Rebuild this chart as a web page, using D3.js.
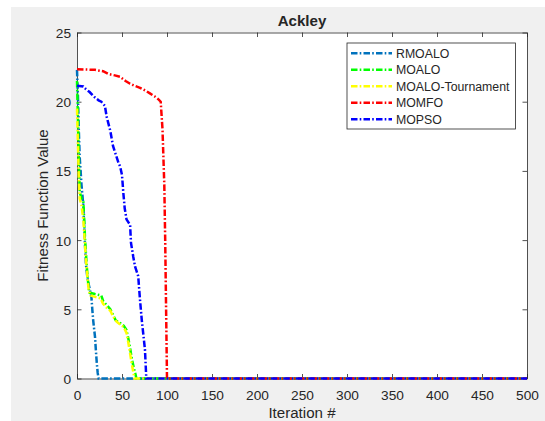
<!DOCTYPE html>
<html>
<head>
<meta charset="utf-8">
<script src="https://cdn.jsdelivr.net/npm/d3@7"></script>
<style>
html,body{margin:0;padding:0;background:#fff;}
svg{display:block;}
text{font-family:"Liberation Sans",Arial,Helvetica,sans-serif;fill:#262626;}
</style>
</head>
<body>
<svg id="chart" width="545" height="421"></svg>
<script>
const title = "Ackley";
const xLabel = "Iteration #";
const yLabel = "Fitness Function Value";
const xTicks = [0,50,100,150,200,250,300,350,400,450,500];
const yTicks = [0,5,10,15,20,25];
const seriesNames = ["RMOALO","MOALO","MOALO-Tournament","MOMFO","MOPSO"];
const seriesColors = ["#0072BD","#00FF00","#FFFF00","#FF0000","#0000FF"];

const rmoaloIter = [0,1,2,3,5,7,9,10,11,12,14,16,17,18,19,20,21,22,23,24,500];
const rmoaloVal  = [22.3,20.5,18,16,14,12.5,9.5,8.2,7.6,7.1,6.5,5.9,5.0,4.2,3.6,3.0,2.0,1.1,0.4,0,0];

const moaloIter = [0,1,2,3,5,7,8,9,10,11,12,13,14,20,27,29,33,37,40,43,48,52,55,57,59,61,63,65,66,500];
const moaloVal  = [21.5,19,16,13.5,13,12.8,11.5,10,9,8,7.2,6.5,6.2,6.1,6.0,5.6,5.3,5.0,4.6,4.2,4.0,3.8,3.5,2.9,2.2,1.4,0.8,0.3,0,0];

const tournIter = [0,1,2,3,5,7,8,9,10,11,12,13,15,20,26,29,33,37,40,44,48,52,55,57,59,61,63,64,500];
const tournVal  = [19.5,17,14.5,13,12.5,11.5,10.5,9.5,8.5,7.8,7.0,6.4,6.0,5.9,5.8,5.4,5.1,4.9,4.5,4.1,3.9,3.7,3.3,2.6,1.8,1.0,0.3,0,0];

const momfoIter = [0,20,29,35,42,48,54,59,64,70,76,81,86,90,93,95,96,97,98,99,100,500];
const momfoVal  = [22.35,22.3,22.2,22.0,21.9,21.8,21.5,21.3,21.15,21.0,20.8,20.6,20.4,20.2,20.0,18,16,14,10,5,0,0];

const mopsoIter = [0,7,10,14,17,20,24,27,31,33,35,37,40,43,46,48,50,51.5,53,55,57,59,60,62.5,64.5,66,68,70,72,74,75.5,77,500];
const mopsoVal  = [21.15,21.1,20.9,20.7,20.5,20.3,20.1,20.0,19.7,18.9,18.4,17.9,16.8,16.2,15.6,15.3,14.7,13.4,12.3,11.5,11.3,11.1,9.8,8.8,8.1,7.8,7.4,5.7,4.2,3.0,2.1,0,0];

const seriesIters = [rmoaloIter, moaloIter, tournIter, momfoIter, mopsoIter];
const seriesVals  = [rmoaloVal, moaloVal, tournVal, momfoVal, mopsoVal];

const svg = d3.select("#chart");
const W = 545, H = 421;
const plot = {left:77, right:527, top:32.5, bottom:378.5};

// figure background
svg.append("rect").attr("x",11).attr("y",7).attr("width",W-11).attr("height",H-7).attr("fill","#f0f0f0");

const x = d3.scaleLinear().domain([0,500]).range([plot.left, plot.right]);
const y = d3.scaleLinear().domain([0,25]).range([plot.bottom, plot.top]);

svg.append("rect").attr("x",plot.left).attr("y",plot.top)
  .attr("width",plot.right-plot.left).attr("height",plot.bottom-plot.top).attr("fill","#fff");

const tickLen = 4.5;
const xAxisB = svg.append("g").attr("transform",`translate(0,${plot.bottom})`)
  .call(d3.axisBottom(x).tickValues(xTicks).tickSize(-tickLen).tickPadding(10).tickSizeOuter(0));
const xAxisT = svg.append("g").attr("transform",`translate(0,${plot.top})`)
  .call(d3.axisTop(x).tickValues(xTicks).tickSize(-tickLen).tickFormat("").tickSizeOuter(0));
const yAxisL = svg.append("g").attr("transform",`translate(${plot.left},0)`)
  .call(d3.axisLeft(y).tickValues(yTicks).tickSize(-tickLen).tickPadding(10).tickSizeOuter(0));
const yAxisR = svg.append("g").attr("transform",`translate(${plot.right},0)`)
  .call(d3.axisRight(y).tickValues(yTicks).tickSize(-tickLen).tickFormat("").tickSizeOuter(0));

[xAxisB,xAxisT,yAxisL,yAxisR].forEach(g=>{
  g.selectAll("path.domain").attr("stroke","#262626").attr("stroke-width",0.8);
  g.selectAll(".tick line").attr("stroke","#262626").attr("stroke-width",0.8);
  g.selectAll(".tick text").attr("font-size","13.7px").attr("fill","#262626")
    .attr("font-family","Liberation Sans, Arial, sans-serif");
});
xAxisB.selectAll(".tick text").attr("y",null).attr("dy",null).attr("transform","translate(0,21)").attr("dominant-baseline","auto");
yAxisL.selectAll(".tick text").attr("x",-6).attr("dy","0.36em");

const dash = "6.5,2.2,1.6,2.2";
const line = d3.line().x(d=>x(d[0])).y(d=>y(d[1]));
seriesNames.forEach((name,i)=>{
  const pts = seriesIters[i].map((it,j)=>[it, seriesVals[i][j]]);
  svg.append("path").datum(pts)
    .attr("d",line)
    .attr("fill","none")
    .attr("stroke",seriesColors[i])
    .attr("stroke-width",2.5)
    .attr("stroke-dasharray",dash);
});

svg.append("text").attr("x",(plot.left+plot.right)/2).attr("y",25.5)
  .attr("text-anchor","middle").attr("font-size","15.1px").attr("font-weight","bold").attr("fill","#000").text(title);
svg.append("text").attr("x",(plot.left+plot.right)/2).attr("y",418)
  .attr("text-anchor","middle").attr("font-size","15.1px").text(xLabel);
svg.append("text").attr("transform",`translate(48,${(plot.top+plot.bottom)/2}) rotate(-90)`)
  .attr("text-anchor","middle").attr("font-size","15.1px").text(yLabel);

const lg = svg.append("g");
lg.append("rect").attr("x",347).attr("y",43).attr("width",168.5).attr("height",86)
  .attr("fill","#fff").attr("stroke","#262626").attr("stroke-width",0.8);
seriesNames.forEach((name,i)=>{
  const cy = 53.3 + i*16.5;
  lg.append("line").attr("x1",351).attr("x2",392).attr("y1",cy).attr("y2",cy)
    .attr("stroke",seriesColors[i]).attr("stroke-width",2.5).attr("stroke-dasharray",dash);
  lg.append("text").attr("x",396).attr("y",cy).attr("dy","0.36em")
    .attr("font-size","12.3px").attr("fill","#000").text(name);
});
</script>
</body>
</html>
